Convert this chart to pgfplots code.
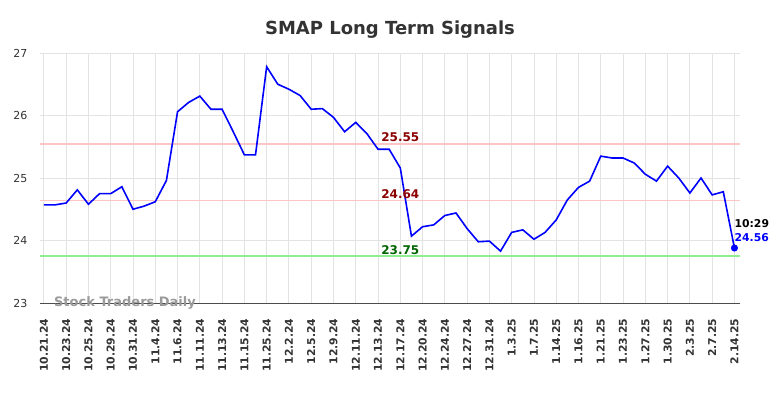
\documentclass[border=0pt]{standalone}
\usepackage{fontspec}
\setmainfont{DejaVu Sans}
\usepackage{pgfplots}
\pgfplotsset{compat=1.18}
\definecolor{titlegray}{HTML}{333333}
\definecolor{gridgray}{HTML}{E3E3E3}
\definecolor{lightred}{HTML}{FFC4C4}
\definecolor{lightgreen}{HTML}{90EE90}
\definecolor{darkred}{HTML}{8B0000}
\definecolor{darkgreen}{HTML}{006400}
\definecolor{wmgray}{HTML}{9A9A9A}
\begin{document}
\begin{tikzpicture}
\begin{axis}[
  name=main,
  scale only axis,
  width=700pt, height=250pt,
  xmin=-0.35, xmax=62.5,
  ymin=23, ymax=27,
  axis lines*=left,
  x axis line style={draw=black!70, line width=0.9pt},
  y axis line style={draw=none},
  xtick={0,2,...,62},
  xticklabels={10.21.24,10.23.24,10.25.24,10.29.24,10.31.24,11.4.24,11.6.24,11.11.24,11.13.24,11.15.24,11.25.24,12.2.24,12.5.24,12.9.24,12.11.24,12.13.24,12.17.24,12.20.24,12.24.24,12.27.24,12.31.24,1.3.25,1.7.25,1.14.25,1.16.25,1.21.25,1.23.25,1.27.25,1.30.25,2.3.25,2.7.25,2.14.25},
  xticklabel style={rotate=90, anchor=east, font=\bfseries\fontsize{10.8}{12}\selectfont, text=titlegray},
  xticklabel shift=12pt,
  ytick={23,24,25,26,27},
  yticklabel style={font=\fontsize{11}{12}\selectfont, text=titlegray},
  yticklabel shift=9pt,
  major tick length=0pt,
  grid=major,
  major grid style={draw=gridgray, line width=0.9pt},
  title={\bfseries\fontsize{18}{20}\selectfont SMAP Long Term Signals},
  title style={text=titlegray, yshift=5pt},
  clip=false,
  /pgf/number format/assume math mode=true,
]
\node[anchor=west, inner sep=0pt, text=wmgray, font=\bfseries\fontsize{13}{14}\selectfont] at (axis cs:0.9,23) {Stock Traders Daily};
\addplot[lightred, line width=1.9pt, forget plot] coordinates {(-0.35,25.55) (62.5,25.55)};
\addplot[lightred, line width=1.9pt, forget plot] coordinates {(-0.35,24.64) (62.5,24.64)};
\addplot[lightgreen, line width=1.9pt, forget plot] coordinates {(-0.35,23.75) (62.5,23.75)};
\addplot[blue, line width=1.6pt, mark=none] coordinates {
(0,24.57) (1,24.57) (2,24.60) (3,24.81) (4,24.58) (5,24.75) (6,24.75) (7,24.86)
(8,24.50) (9,24.55) (10,24.62) (11,24.96) (12,26.06) (13,26.21) (14,26.31) (15,26.10)
(16,26.10) (17,25.74) (18,25.37) (19,25.37) (20,26.78) (21,26.50) (22,26.42) (23,26.32)
(24,26.10) (25,26.11) (26,25.97) (27,25.74) (28,25.89) (29,25.71) (30,25.46) (31,25.46)
(32,25.16) (33,24.07) (34,24.22) (35,24.25) (36,24.40) (37,24.44) (38,24.19) (39,23.98)
(40,23.99) (41,23.83) (42,24.13) (43,24.17) (44,24.02) (45,24.13) (46,24.33) (47,24.65)
(48,24.85) (49,24.95) (50,25.35) (51,25.32) (52,25.32) (53,25.24) (54,25.06) (55,24.95)
(56,25.19) (57,25.00) (58,24.76) (59,25.00) (60,24.73) (61,24.78) (62,23.88)
};
\addplot[blue, only marks, mark=*, mark size=3.3pt] coordinates {(62,23.88)};
\node[anchor=south, inner sep=0pt, text=darkred, font=\bfseries\fontsize{12}{13}\selectfont, yshift=1.5pt] at (axis cs:32,25.55) {25.55};
\node[anchor=south, inner sep=0pt, text=darkred, font=\bfseries\fontsize{12}{13}\selectfont, yshift=1.5pt] at (axis cs:32,24.64) {24.64};
\node[anchor=south, inner sep=0pt, text=darkgreen, font=\bfseries\fontsize{12}{13}\selectfont, yshift=1.5pt] at (axis cs:32,23.75) {23.75};
\node[anchor=west, inner sep=0pt, text=black, font=\bfseries\fontsize{10.8}{12}\selectfont, yshift=24pt] at (axis cs:62,23.88) {10:29};
\node[anchor=west, inner sep=0pt, text=blue, font=\bfseries\fontsize{10.8}{12}\selectfont, yshift=10.5pt] at (axis cs:62,23.88) {24.56};
\end{axis}
\pgfresetboundingbox
\path (main.south west) ++(-40pt,-95pt) rectangle ++(784pt,398pt);
\end{tikzpicture}
\end{document}
